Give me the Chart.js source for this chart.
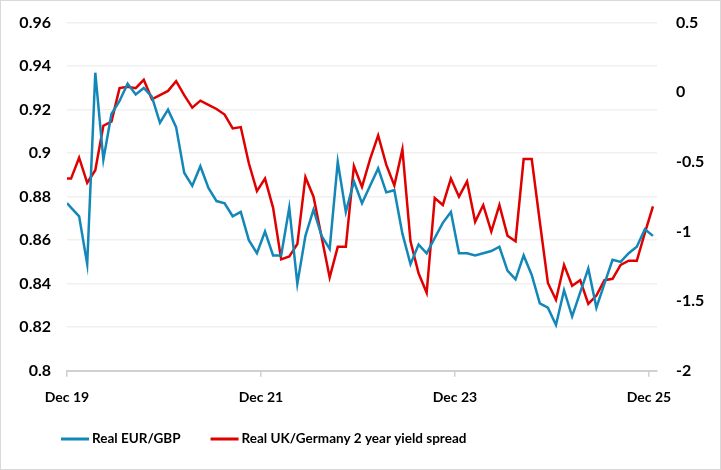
<!DOCTYPE html>
<html>
<head>
<meta charset="utf-8">
<script src="https://cdn.jsdelivr.net/npm/chart.js@4.4.1/dist/chart.umd.min.js"></script>
<style>
  body { margin: 0; background: #fff; }
  #wrap { width: 721px; height: 470px; box-sizing: border-box; border: 1px solid #d9d9d9; }
  canvas { display: block; }
</style>
</head>
<body>
<div id="wrap"><canvas id="chart" width="719" height="468"></canvas></div>
<script>
// x axis ticks (months from Dec 19)
const tickPos = [0, 24, 48, 72];
const tickLabels = ['Dec 19', 'Dec 21', 'Dec 23', 'Dec 25'];

// monthly observations Dec 19 .. Dec 25, first value repeated at the axis start
const eurGbp = [
    0.877, 0.875, 0.871, 0.849, 0.937, 0.897, 0.918, 0.924, 0.932, 0.927, 0.930,
    0.926, 0.914, 0.920, 0.912, 0.891, 0.885, 0.894, 0.884, 0.878, 0.877,
    0.871, 0.873, 0.860, 0.854, 0.864, 0.853, 0.853, 0.875, 0.840, 0.862,
    0.874, 0.862, 0.856, 0.896, 0.873, 0.887, 0.877, 0.885, 0.893, 0.882,
    0.883, 0.863, 0.849, 0.858, 0.854, 0.861, 0.868, 0.873, 0.854, 0.854,
    0.853, 0.854, 0.855, 0.857, 0.846, 0.842, 0.853, 0.844, 0.831, 0.829,
    0.821, 0.837, 0.825, 0.836, 0.847, 0.829, 0.840, 0.851, 0.850, 0.854,
    0.857, 0.865, 0.862
];
const yieldSpread = [
    -0.62, -0.62, -0.47, -0.65, -0.56, -0.24, -0.21, 0.03, 0.04, 0.03, 0.09,
    -0.05, -0.02, 0.01, 0.08, -0.02, -0.11, -0.06, -0.09, -0.12, -0.16,
    -0.26, -0.25, -0.51, -0.71, -0.62, -0.83, -1.20, -1.18, -1.09, -0.61,
    -0.75, -1.04, -1.33, -1.11, -1.11, -0.53, -0.68, -0.48, -0.31, -0.52,
    -0.67, -0.41, -1.07, -1.30, -1.44, -0.76, -0.81, -0.62, -0.75, -0.64,
    -0.93, -0.81, -1.00, -0.81, -1.03, -1.07, -0.48, -0.48, -0.93, -1.37,
    -1.49, -1.24, -1.39, -1.35, -1.52, -1.46, -1.35, -1.34, -1.24, -1.21,
    -1.21, -1.01, -0.82
];

// point dates: axis start, then mid-month for each month
const months = [0];
for (let i = 0; i < eurGbp.length - 1; i++) months.push(i + 0.5);

const toPoints = (vals) => vals.map((v, i) => ({ x: months[i], y: v }));

const FONT = 'Lato, "Open Sans", sans-serif';
const BLUE = '#1287b8';
const RED = '#e00000';

// Excel-like legend, sitting left of centre under the plot
const legendPlugin = {
    id: 'excelLegend',
    afterDraw(chart) {
        const ctx = chart.ctx;
        ctx.save();
        ctx.font = `bold 13.5px ${FONT}`;
        ctx.textBaseline = 'middle';
        let x = 60;
        const y = 438;
        chart.data.datasets.forEach(ds => {
            ctx.fillStyle = ds.borderColor;
            ctx.fillRect(x, y - 1.5, 28, 3);
            x += 31;
            ctx.fillStyle = '#000';
            ctx.fillText(ds.label, x, y);
            x += ctx.measureText(ds.label).width + 30;
        });
        ctx.restore();
    }
};

// fixed axis widths, no label overflow padding (keeps the plot box where Excel put it)
const fixVertical = (w) => (scale) => {
    scale.width = w;
    scale.paddingTop = 0;
    scale.paddingBottom = 0;
};

new Chart(document.getElementById('chart'), {
    type: 'line',
    data: {
        datasets: [
            {
                label: 'Real EUR/GBP',
                data: toPoints(eurGbp),
                borderColor: BLUE,
                backgroundColor: BLUE,
                borderWidth: 2.5,
                yAxisID: 'y'
            },
            {
                label: 'Real UK/Germany 2 year yield spread',
                data: toPoints(yieldSpread),
                borderColor: RED,
                backgroundColor: RED,
                borderWidth: 2.5,
                yAxisID: 'y1'
            }
        ]
    },
    plugins: [legendPlugin],
    options: {
        responsive: false,
        animation: false,
        layout: { padding: { top: 21.7, bottom: 48.3, left: 0, right: 0 } },
        elements: { point: { radius: 0 }, line: { tension: 0 } },
        plugins: {
            tooltip: { enabled: false },
            legend: { display: false }
        },
        scales: {
            x: {
                type: 'linear',
                min: 0,
                max: 73,
                afterBuildTicks: (scale) => { scale.ticks = tickPos.map(v => ({ value: v })); },
                afterFit: (scale) => { scale.height = 50; scale.paddingLeft = 0; scale.paddingRight = 0; },
                ticks: {
                    autoSkip: false,
                    maxRotation: 0,
                    padding: 12,
                    color: '#000',
                    font: { family: FONT, size: 14, weight: 'bold' },
                    callback: (v) => tickLabels[tickPos.indexOf(v)]
                },
                grid: { drawOnChartArea: false, drawTicks: true, tickLength: 6, tickColor: '#d0d0d0', lineWidth: 1.5 },
                border: { display: true, color: '#d0d0d0', width: 2 }
            },
            y: {
                position: 'left',
                min: 0.8,
                max: 0.96,
                afterFit: fixVertical(66),
                ticks: {
                    stepSize: 0.02,
                    padding: 16,
                    color: '#000',
                    font: { family: FONT, size: 16, weight: 'bold' },
                    callback: (v) => String(Math.round(v * 100) / 100)
                },
                grid: { color: '#f0f0f0', lineWidth: 1.5, drawTicks: false },
                border: { display: false }
            },
            y1: {
                position: 'right',
                min: -2,
                max: 0.5,
                afterFit: fixVertical(63),
                ticks: {
                    stepSize: 0.5,
                    padding: 19,
                    color: '#000',
                    font: { family: FONT, size: 16, weight: 'bold' },
                    callback: (v) => String(Math.round(v * 10) / 10)
                },
                grid: { drawOnChartArea: false, drawTicks: false },
                border: { display: false }
            }
        }
    }
});
</script>
</body>
</html>
